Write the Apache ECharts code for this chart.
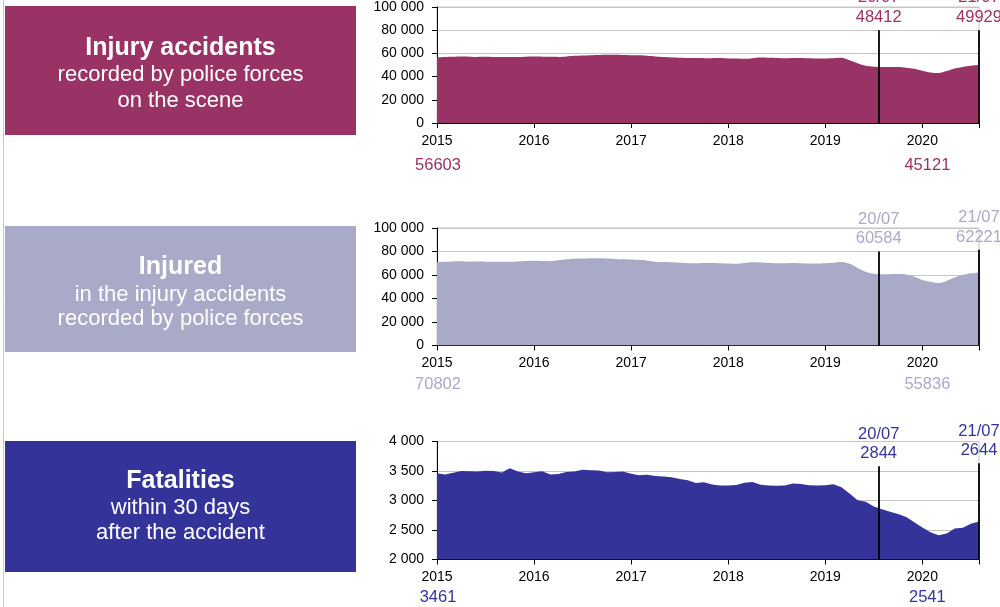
<!DOCTYPE html>
<html>
<head>
<meta charset="utf-8">
<script src="https://cdn.jsdelivr.net/npm/echarts@6/dist/echarts.min.js"></script>
<style>
  html, body { margin: 0; padding: 0; background: #fff; }
  #chart { width: 1000px; height: 607px; }
</style>
</head>
<body>
<div id="chart"></div>
<script>
// monthly rolling 12-month totals, Jan 2015 .. Aug 2020
var startYear = 2015;

var accidents = [
  56603, 56900, 57100, 57300, 57200, 57000, 57100, 56900, 56800, 56800, 56900, 57200,
  57300, 57200, 57100, 57000, 57400, 57900, 58200, 58500, 58700, 58900, 58800, 58600,
  58400, 58300, 58000, 57400, 56800, 56500, 56300, 56100, 56000, 55900, 55900, 56000,
  55700, 55500, 55300, 55900, 56400, 56200, 56000, 55800, 56000, 56100, 55800, 55500,
  55700, 55900, 56200, 54000, 51500, 49300, 48500, 48300, 48300, 48200, 47600, 46700,
  45121, 43600, 43000, 44800, 47000, 48300, 49300, 49929
];

var injured = [
  70802, 71200, 71500, 71600, 71300, 71400, 71300, 71200, 71200, 71300, 71500, 71900,
  72100, 71900, 71800, 72500, 73300, 73800, 74000, 74300, 74200, 74000, 73700, 73400,
  73200, 72900, 72200, 71300, 71000, 70800, 70400, 70100, 70000, 70200, 70300, 70100,
  69800, 69600, 70200, 70800, 70600, 70200, 69900, 70000, 70300, 70100, 69800, 69700,
  69900, 70400, 71000, 69500, 66000, 62800, 61000, 60600, 60700, 60800, 60400, 58500,
  55836, 54300, 53200, 55000, 57800, 59900, 61400, 62221
];

var fatalities = [
  3461, 3442, 3470, 3500, 3495, 3490, 3505, 3500, 3475, 3548, 3490, 3460,
  3478, 3495, 3440, 3450, 3485, 3490, 3520, 3512, 3508, 3480, 3485, 3493,
  3455, 3430, 3438, 3415, 3405, 3395, 3365, 3345, 3295, 3310, 3270, 3255,
  3253, 3262, 3300, 3315, 3268, 3253, 3250, 3255, 3290, 3280, 3260, 3255,
  3258, 3275, 3225, 3120, 3005, 2980, 2900, 2850, 2810, 2772, 2720, 2630,
  2541, 2460, 2410, 2440, 2525, 2540, 2605, 2644
];

// vertical markers: position (fractional year), label and value
var markerLabels = ['20/07', '21/07'];
var markerYear = 2019.55;
var accidentsMarkers = [48412, 49929];
var injuredMarkers = [60584, 62221];
var fatalitiesMarkers = [2844, 2644];
var markerTops = [[80000, 80000], [80000, 81500], [3580, 3630]];

// values printed under the x axis (index in the monthly series)
var footIndex = [0, 60];

var titles = [
  ['Injury accidents', 'recorded by police forces', 'on the scene'],
  ['Injured', 'in the injury accidents', 'recorded by police forces'],
  ['Fatalities', 'within 30 days', 'after the accident']
];
var colors = ['#993366', '#a9a9c8', '#333399'];

var FONT = '"Liberation Sans", Arial, sans-serif';

function toXY(arr) {
  return arr.map(function (v, i) { return [startYear + i / 12, v]; });
}

function spaced(v) {
  return String(v).replace(/\B(?=(\d{3})+(?!\d))/g, ' ');
}

var lastX = startYear + (accidents.length - 1) / 12;

var grids = [
  { left: 437, right: 21, top: 6, height: 117 },
  { left: 437, right: 21, top: 228, height: 117.5 },
  { left: 437, right: 21, top: 441.5, height: 118 }
];
grids.forEach(function (g) {
  g.show = true;
  g.borderColor = '#c4c4c4';
  g.borderWidth = 1;
});

var yRanges = [[0, 100000, 20000], [0, 100000, 20000], [2000, 4000, 500]];
var footOffsets = [42.5, 38.5, 38];

var xAxes = [], yAxes = [];
for (var k = 0; k < 3; k++) {
  xAxes.push({
    type: 'value', gridIndex: k, min: startYear, max: lastX, interval: 1,
    axisLine: { lineStyle: { color: '#000', width: 1 } },
    axisTick: { show: true, length: 5, lineStyle: { color: '#000' } },
    splitLine: { show: false },
    axisLabel: {
      color: '#000', fontFamily: FONT, fontSize: 14, margin: 11,
      formatter: function (v) { return Math.abs(v - Math.round(v)) < 1e-6 ? String(Math.round(v)) : ''; }
    }
  });
  yAxes.push({
    type: 'value', gridIndex: k, min: yRanges[k][0], max: yRanges[k][1], interval: yRanges[k][2],
    axisLine: { show: true, lineStyle: { color: '#000', width: 1 } },
    axisTick: { show: true, length: 5, lineStyle: { color: '#000' } },
    splitLine: { show: true, lineStyle: { color: '#c4c4c4', width: 1 } },
    axisLabel: { color: '#000', fontFamily: FONT, fontSize: 14, margin: 13, formatter: spaced }
  });
}

function makeSeries(k, values, markers) {
  var ymin = yRanges[k][0];
  var xs = [markerYear, lastX];
  return {
    type: 'line', xAxisIndex: k, yAxisIndex: k,
    data: toXY(values),
    showSymbol: false,
    smooth: k < 2 ? 0.3 : false,
    lineStyle: { width: 0 },
    areaStyle: { color: colors[k], opacity: 1 },
    silent: true,
    markLine: {
      silent: true,
      symbol: ['none', 'none'],
      lineStyle: { color: '#000', width: 1.8, type: 'solid' },
      label: {
        show: true, position: 'start', distance: 3,
        color: colors[k], fontFamily: FONT, fontSize: 16.5, lineHeight: 19.5
      },
      data: xs.map(function (x, j) {
        return [
          { coord: [x, markerTops[k][j]], label: { formatter: markerLabels[j] + '\n' + markers[j] } },
          { coord: [x, ymin] }
        ];
      })
    },
    markPoint: {
      silent: true,
      symbol: 'circle', symbolSize: 0,
      label: { show: true, color: colors[k], fontFamily: FONT, fontSize: 16.5 },
      data: footIndex.map(function (idx, j) {
        return {
          coord: [startYear + idx / 12, ymin],
          label: { position: 'inside', offset: [j === 0 ? 1 : 5, footOffsets[k]], formatter: String(values[idx]) }
        };
      })
    }
  };
}

// left boxes with the titles
var boxes = [
  { y: 6, h: 129, lines: [48, 75.3, 101] },
  { y: 226, h: 126, lines: [267, 294.5, 319] },
  { y: 441, h: 131, lines: [481, 508, 533] }
];
var graphics = [{
  type: 'line', shape: { x1: 3.5, y1: 0, x2: 3.5, y2: 607 },
  style: { stroke: '#c8c8c8', lineWidth: 1 }, silent: true
}];
boxes.forEach(function (b, k) {
  graphics.push({
    type: 'rect', shape: { x: 5, y: b.y, width: 351, height: b.h },
    style: { fill: colors[k] }, silent: true
  });
  titles[k].forEach(function (t, j) {
    graphics.push({
      type: 'text', silent: true,
      style: {
        text: t, x: 180.5, y: b.lines[j], fill: '#fff',
        font: (j === 0 ? 'bold 25px ' : '22px ') + FONT,
        align: 'center', verticalAlign: 'middle',
        textAlign: 'center', textVerticalAlign: 'middle'
      }
    });
  });
});

var chart = echarts.init(document.getElementById('chart'));
chart.setOption({
  animation: false,
  backgroundColor: '#fff',
  grid: grids,
  xAxis: xAxes,
  yAxis: yAxes,
  graphic: graphics,
  series: [
    makeSeries(0, accidents, accidentsMarkers),
    makeSeries(1, injured, injuredMarkers),
    makeSeries(2, fatalities, fatalitiesMarkers)
  ]
});
</script>
</body>
</html>
